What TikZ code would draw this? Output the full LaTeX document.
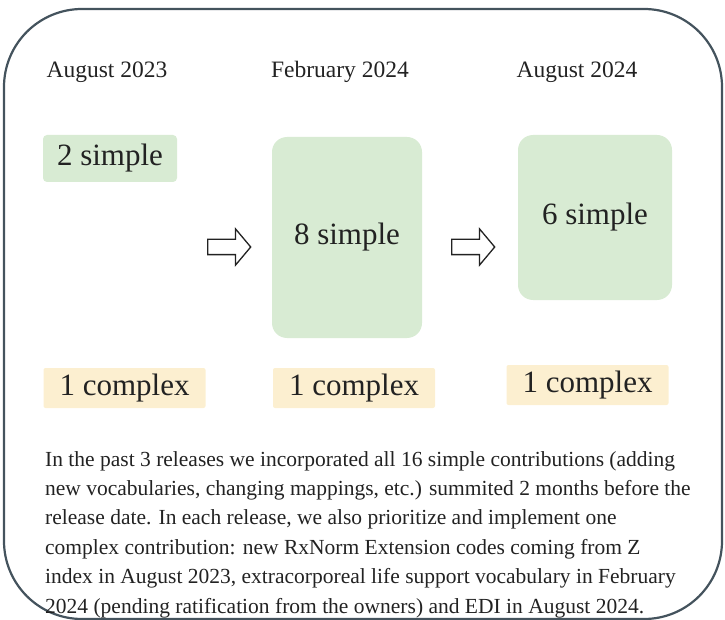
\documentclass[tikz,border=0pt]{standalone}
\usepackage{fontspec}
\setmainfont{Liberation Serif}
\usetikzlibrary{shapes.arrows}
\definecolor{ink}{HTML}{222222}
\definecolor{rim}{HTML}{44535D}
\definecolor{leaf}{HTML}{D8EBD3}
\definecolor{sand}{HTML}{FCEFD0}
\tikzset{
  frame/.style={draw=rim, line width=2.2pt, rounded corners=78pt},
  date/.style={anchor=base, font=\fontsize{23.5}{28}\selectfont},
  simple/.style={fill=leaf, rounded corners=#1, inner sep=0pt, font=\fontsize{31}{36}\selectfont},
  simple/.default=4pt,
  complex/.style={fill=sand, rounded corners=2pt, inner sep=0pt, minimum width=162pt, minimum height=40pt, font=\fontsize{31}{36}\selectfont},
  flow/.style={single arrow, draw=ink, line width=1.3pt, fill=white, inner sep=7pt, minimum height=43pt, single arrow head extend=10.5pt, single arrow tip angle=100}
}
\begin{document}
\begin{tikzpicture}[x=1pt, y=-1pt, text=ink]
  \useasboundingbox (0,0) rectangle (725,620);
  \draw[frame] (4,9) rectangle (722,619);

  % release dates
  \node[date] (d1) at (107,78) {August 2023};
  \node[date] (d2) at (340,78) {February 2024};
  \node[date] (d3) at (577,78) {August 2024};

  % simple contributions
  \node[simple, minimum width=134pt, minimum height=47pt] (s1) at (110,158.5) {2 simple};
  \node[simple=15pt, minimum width=150pt, minimum height=201pt] (s2) at (347,237.5) {8 simple};
  \node[simple=15pt, minimum width=154pt, minimum height=165pt] (s3) at (595,217.5) {6 simple};
  \node[flow] (fA) at (226,247) {};
  \node[flow] (fB) at (470,247) {};

  % complex contributions
  \node[complex] (c1) at (124.5,388) {1 complex};
  \node[complex] (c2) at (354,388) {1 complex};
  \node[complex] (c3) at (587.5,385) {1 complex};

  % base of a multi-line node is its last line
  \node[anchor=base west, align=left, inner sep=0pt, font=\fontsize{21.5}{29.4}\selectfont] (note) at (45,613)
  {In the past 3 releases we incorporated all 16 simple contributions (adding\\
   new vocabularies, changing mappings, etc.) summited 2 months before the\\
   release date. In each release, we also prioritize and implement one\\
   complex contribution: new RxNorm Extension codes coming from Z\\
   index in August 2023, extracorporeal life support vocabulary in February\\
   2024 (pending ratification from the owners) and EDI in August 2024.};
\end{tikzpicture}
\end{document}
